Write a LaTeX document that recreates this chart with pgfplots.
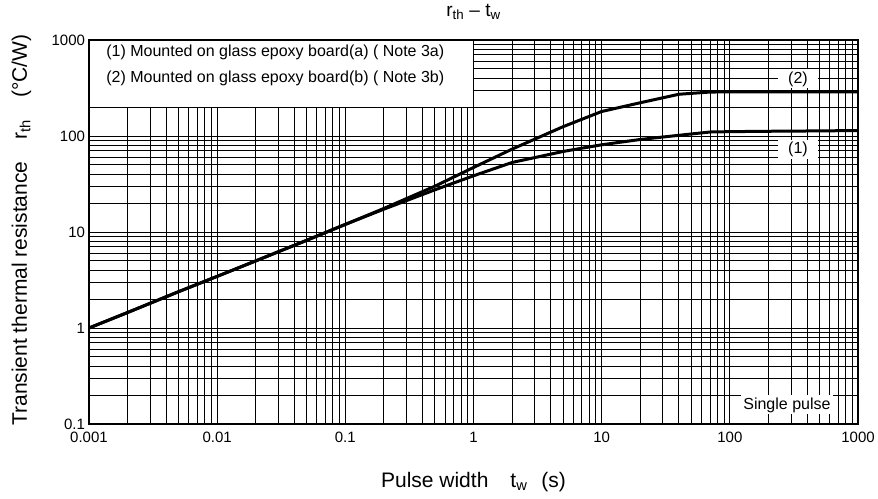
\documentclass[border=0pt]{standalone}
\usepackage{fontspec}
\setmainfont{Liberation Sans}
\usepackage{pgfplots}
\pgfplotsset{compat=1.18}
\newcommand{\fs}[1]{\fontsize{#1bp}{#1bp}\selectfont}
\begin{document}
\begin{tikzpicture}
\begin{axis}[
  name=ax,
  scale only axis,
  width=769bp, height=384bp,
  xmode=log, ymode=log,
  xmin=0.001, xmax=1000, ymin=0.1, ymax=1000,
  xtick={0.001,0.01,0.1,1,10,100,1000},
  xticklabels={0.001,0.01,0.1,1,10,100,1000},
  ytick={0.1,1,10,100,1000},
  yticklabels={0.1,1,10,100,1000},
  /pgf/number format/assume math mode=true,
  grid=both,
  major grid style={black, line width=0.9bp},
  minor grid style={black, line width=0.9bp},
  major tick length=0pt, minor tick length=0pt,
  axis line style={line width=2.5bp},
  tick label style={font=\fs{15}},
  xticklabel style={yshift=-5bp},
  yticklabel style={xshift=-0.5bp},
  title={r\textsubscript{th} \textendash{} t\textsubscript{w}},
  title style={font=\fs{19}, inner sep=1bp, at={(axis description cs:0.5,1.058)}, anchor=center},
  xlabel={Pulse width\hspace{22bp}t\textsubscript{w}\hspace{14bp}(s)},
  xlabel style={font=\fs{21}, at={(axis description cs:0.5,-0.151)}, anchor=center},
  ylabel={Transient thermal resistance\hspace{22bp}r\textsubscript{th}\hspace{22bp}(°C/W)},
  ylabel style={font=\fs{21}, at={(axis description cs:-0.088,0.505)}, anchor=center},
]
\addplot[black, line width=3bp] coordinates {
(0.001,1) (0.002,1.45) (0.005,2.39) (0.01,3.45) (0.02,5.0) (0.05,8.2) (0.1,12.0) (0.2,17.3)
(0.5,27.5) (1,38.5) (2,53) (5,69) (10,81) (20,92) (50,105) (70,110) (100,111) (200,112) (500,113) (1000,114)
};
\addplot[black, line width=3bp] coordinates {
(0.001,1) (0.002,1.45) (0.005,2.39) (0.01,3.45) (0.02,5.0) (0.05,8.2) (0.1,12.0) (0.2,17.6)
(0.5,30) (1,47) (2,73) (5,125) (10,180) (20,222) (40,272) (70,287) (100,288) (1000,288)
};
\draw[fill=white, line width=1.1bp] (axis cs:0.001,1000) rectangle (axis cs:1,196);
\node[anchor=west, font=\fs{16}, inner sep=0pt] at (axis cs:0.00136,750) {(1) Mounted on glass epoxy board(a) ( Note 3a)};
\node[anchor=west, font=\fs{16}, inner sep=0pt] at (axis cs:0.00136,402) {(2) Mounted on glass epoxy board(b) ( Note 3b)};
\node[fill=white, font=\fs{16}, inner xsep=10bp, inner ysep=2bp] at (axis cs:340,393) {(2)};
\node[fill=white, font=\fs{16}, inner xsep=10bp, inner ysep=2bp] at (axis cs:340,73) {(1)};
\node[fill=white, font=\fs{16}, inner xsep=2bp, inner ysep=2bp] at (axis cs:279,0.158) {Single pulse};
\end{axis}
\draw[line width=2.5bp] (ax.south west) rectangle (ax.north east);
\pgfresetboundingbox
\useasboundingbox (-89bp,-75bp) rectangle (789bp,424bp);
\end{tikzpicture}
\end{document}
